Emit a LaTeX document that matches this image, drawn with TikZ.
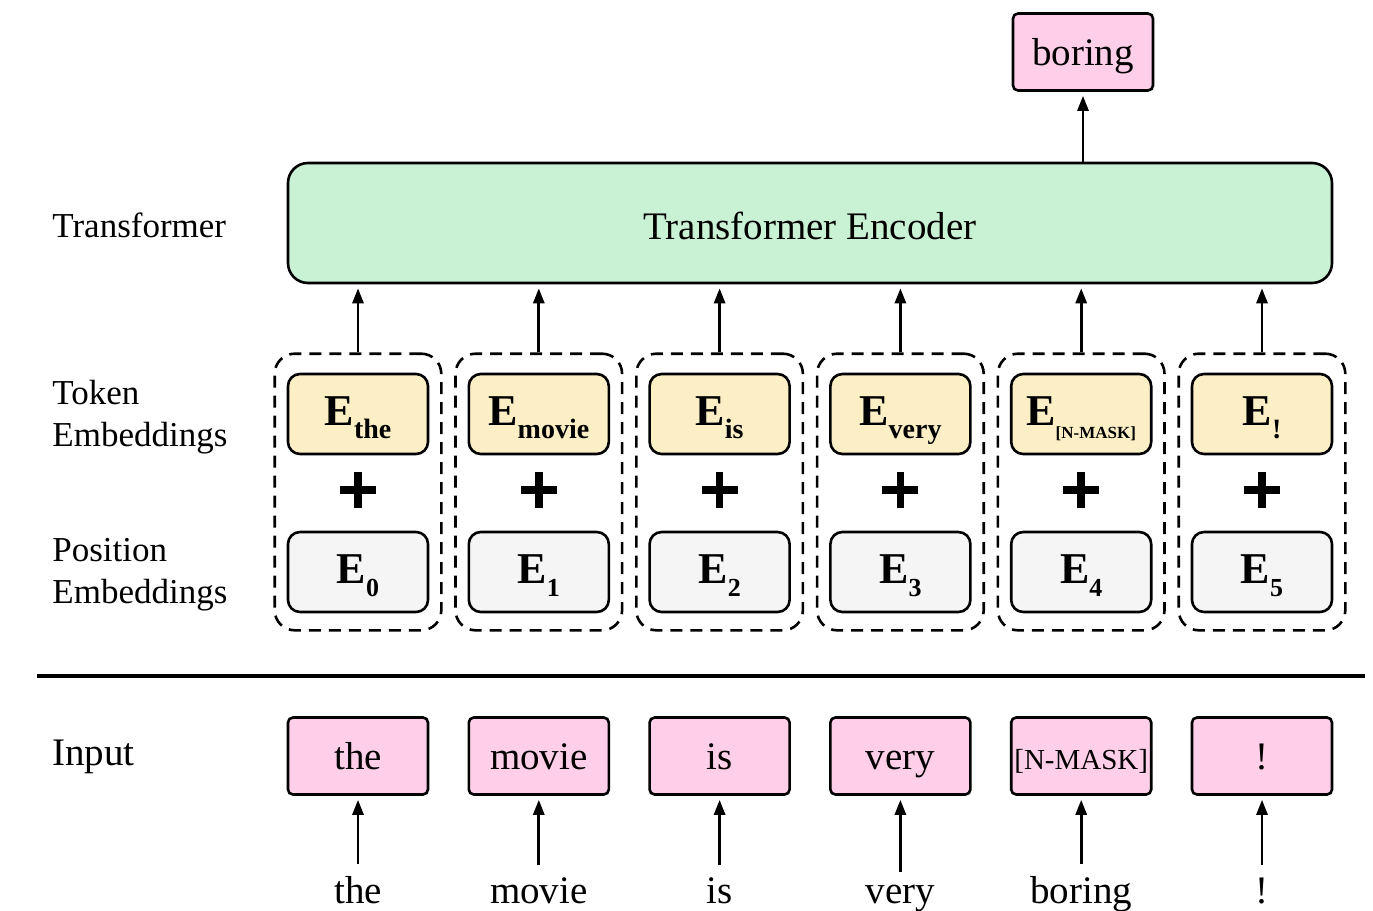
\documentclass[tikz,border=0pt]{standalone}
\usepackage{fontspec}
\setmainfont{Liberation Serif}
\usetikzlibrary{arrows.meta,positioning,fit}

\definecolor{tokfill}{HTML}{FCEFC6}
\definecolor{posfill}{HTML}{F5F5F5}
\definecolor{wordfill}{HTML}{FFCFEA}
\definecolor{encfill}{HTML}{C9F1D3}

\newcommand{\emb}[2][14]{\textbf{E}\raisebox{-0.3em}{\fontsize{#1}{#1}\selectfont\textbf{#2}}}

\tikzset{
  embbox/.style={draw,line width=1.3pt,rounded corners=6pt,minimum width=70pt,
    minimum height=40pt,inner sep=0pt,text height=15pt,text depth=4pt,
    font=\fontsize{22}{24}\selectfont},
  tokbox/.style={embbox,fill=tokfill},
  posbox/.style={embbox,fill=posfill},
  wordbox/.style={draw,line width=1.3pt,rounded corners=2.5pt,
    fill=wordfill,minimum width=70pt,minimum height=38.5pt,inner sep=0pt,
    text height=15.5pt,text depth=2pt,font=\fontsize{19.5}{22}\selectfont},
  grpbox/.style={draw,line width=1.3pt,dash pattern=on 6pt off 4pt,rounded corners=10pt,
    inner xsep=6pt,inner ysep=9pt},
  uparrow/.style={-{Triangle[length=7.5pt,width=5.5pt]},line width=1.4pt,shorten >=2pt},
  sidelabel/.style={anchor=west,align=left,inner sep=0pt,font=\fontsize{17.5}{21}\selectfont},
  plussign/.pic={\draw[line width=3.8pt] (-18,0) -- (18,0) (0,-18) -- (0,18);},
}

\begin{document}
\begin{tikzpicture}[x=0.5pt,y=-0.5pt]
\useasboundingbox (0,0) rectangle (1373,911);

\node[sidelabel] (lbltrf) at (52,225) {Transformer};
\node[sidelabel] (lbltok) at (52,417) {Token\\Embeddings};
\node[sidelabel] (lblpos) at (52,575) {Position\\Embeddings};
\node[sidelabel,font=\fontsize{19.5}{22}\selectfont] (lblinp) at (52,757) {Input};

\node[draw,line width=1.3pt,rounded corners=10pt,fill=encfill,minimum width=522pt,
  minimum height=60pt,font=\fontsize{19.5}{22}\selectfont] (enc) at (810,223) {};
\node[font=\fontsize{19.5}{22}\selectfont] (enctext) at (810,226) {Transformer Encoder};

\node[wordbox] (out) at (1083,52) {boring};
\draw[uparrow] (enc.north -| out.south) -- (out.south);

\draw[line width=2pt] (37,676) -- (1365,676);

\foreach \inp/\wrd/\sub [count=\i from 0] in {the/the/the, movie/movie/movie, is/is/is,
    very/very/very, {\fontsize{14.5}{16}\selectfont[N-MASK]}/boring/{\fontsize{8.5}{8.5}\selectfont[N-MASK]}, !/!/!}
{
  \node[tokbox] (tok\i) at (358+180.8*\i,414) {\emb{\sub}};
  \pic at (358+180.8*\i,490) {plussign};
  \node[posbox] (pos\i) at (358+180.8*\i,572) {\emb[13]{\i}};
  \node[grpbox,fit=(tok\i) (pos\i),yshift=0.5pt] (grp\i) {};
  \draw[uparrow] (grp\i.north) -- (grp\i.north |- enc.south);

  \node[wordbox] (in\i) at (358+180.8*\i,756) {\inp};
  \node[anchor=base,inner sep=2pt,font=\fontsize{19.5}{22}\selectfont] (w\i) at (358+180.8*\i,903) {\wrd};
  \draw[uparrow] ([yshift=4pt]w\i.north) -- (in\i.south);
}
\end{tikzpicture}
\end{document}
